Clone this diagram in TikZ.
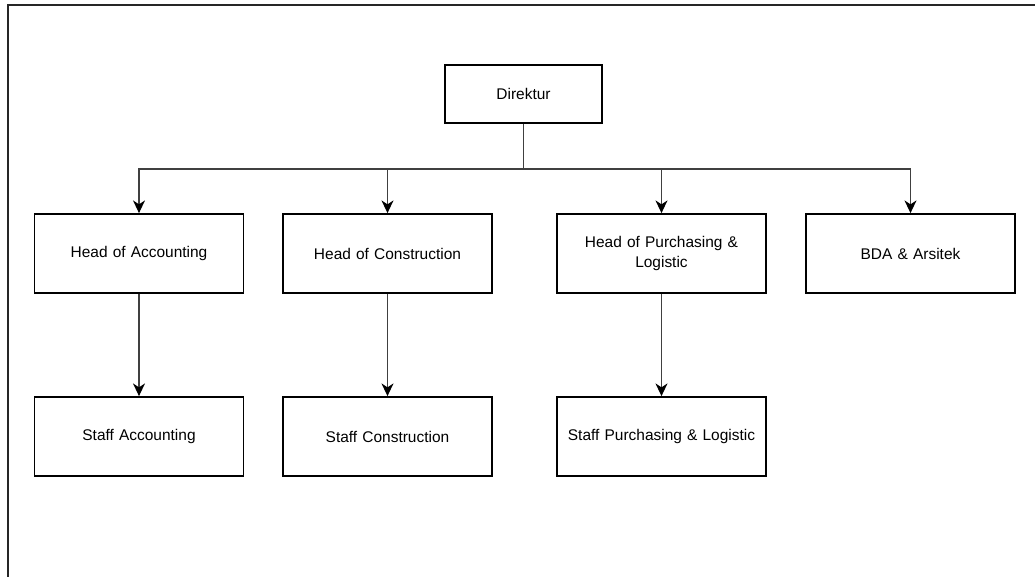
\documentclass[tikz,border=0pt]{standalone}
\usepackage{fontspec}
\setmainfont{Liberation Sans}
\usetikzlibrary{arrows.meta}
\begin{document}
\begin{tikzpicture}[x=0.025cm,y=-0.025cm,
    box/.style={draw, line width=1.1pt, minimum width=5.2cm, minimum height=1.98cm,
      align=center, text width=5cm, font=\fontsize{11}{14}\selectfont},
    link/.style={line width=0.9pt, black!75},
    arr/.style={line width=0.9pt, black!75, -{Stealth[length=9pt,width=8.5pt,inset=2.8pt,black]}}]
      \useasboundingbox (0,0) rectangle (1035,577);
      \draw[line width=1.4pt, black!85] (1035,5) -- (8,5) -- (8,577);
      \node[box, minimum width=3.93cm, minimum height=1.45cm, text width=3.5cm] (D) at (523.5,94) {Direktur};
      \node[box] (HA) at (139,253.5) {Head of Accounting};
      \node[box] (HC) at (387.5,253.5) {Head of Construction};
      \node[box] (HP) at (661.5,253.5) {Head of Purchasing \&\\ Logistic};
      \node[box] (BA) at (910.5,253.5) {BDA \& Arsitek};
      \node[box] (SA) at (139,436.5) {Staff Accounting};
      \node[box] (SC) at (387.5,436.5) {Staff Construction};
      \node[box] (SP) at (661.5,436.5) {Staff Purchasing \& Logistic};
      \coordinate (bus) at (523.5,169);
      \draw[link] (D) -- (bus);
      \draw[arr] (bus) -| (HA);
      \draw[arr] (bus) -| (HC);
      \draw[arr] (bus) -| (HP);
      \draw[arr] (bus) -| (BA);
      \draw[arr] (HA) -- (SA);
      \draw[arr] (HC) -- (SC);
      \draw[arr] (HP) -- (SP);
    \end{tikzpicture}
\end{document}
